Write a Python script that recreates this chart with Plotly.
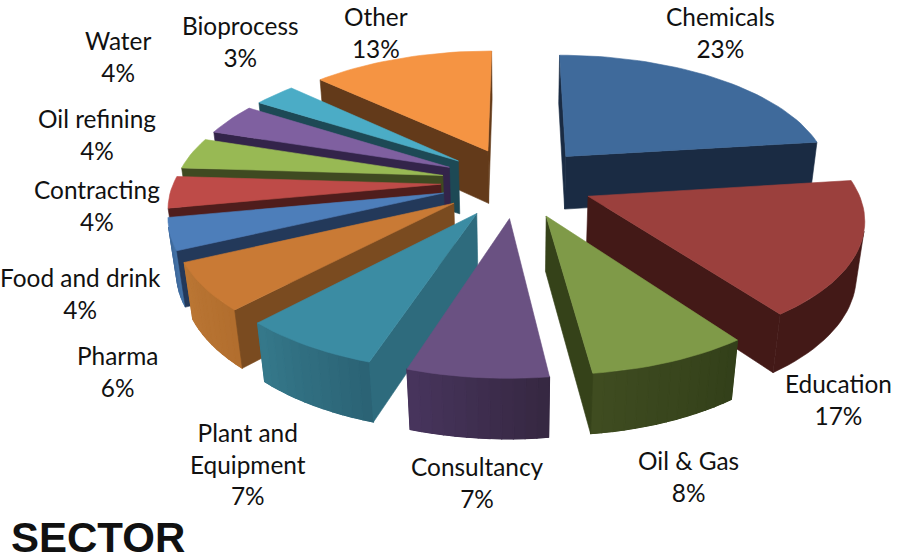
import math
import plotly.graph_objects as go

categories = ["Chemicals", "Education", "Oil & Gas", "Consultancy", "Plant and<br>Equipment", "Pharma",
              "Food and drink", "Contracting", "Oil refining", "Water", "Bioprocess", "Other"]
values = [23, 17, 8, 7, 7, 6, 4, 4, 4, 4, 3, 13]

top_colors = ["#3F6A9B", "#9B403D", "#7F9A48", "#6A5182", "#3B8CA3", "#C97A35",
              "#4D7EBA", "#BE4B48", "#98B954", "#7F60A0", "#4BACC6", "#F59443"]
edge_colors = ["#1A2B43", "#431917", "#354219", "#3C2D50", "#2E6B7D", "#7A4B20",
               "#23395A", "#4F1D1C", "#3F4A21", "#33244A", "#1D4955", "#633A1A"]
arc_from = ["#1A2B43", "#431917", "#33401A", "#362842", "#2B6375", "#B26E2E",
            "#4674A8", "#A8423F", "#86A34A", "#6E5290", "#3F97AE", "#D9823A"]
arc_to = ["#1A2B43", "#431917", "#3F4C20", "#47345C", "#35788A", "#BA7634",
          "#3F6A9C", "#A8423F", "#86A34A", "#6E5290", "#3F97AE", "#D9823A"]

label_x = [720, 838, 688, 477, 248, 117, 80, 97, 97, 118, 240, 376]
label_y = [32, 399, 476, 482, 464, 371, 293, 205, 134, 56, 41, 32]

CX, CY, RX, RY = 517, 182, 267, 123.5
PERSP, EXPLODE, DEPTH, DEPTH_W = 0.15, 0.285, 55, 0.024


def project(px, py, low=False):
    w = 1 + PERSP * py + (DEPTH_W if low else 0)
    return (CX + RX * px / w, CY - RY * py / w + (DEPTH / w if low else 0))


def mix(a, b, t):
    ca = [int(a[i:i + 2], 16) for i in (1, 3, 5)]
    cb = [int(b[i:i + 2], 16) for i in (1, 3, 5)]
    return "#%02X%02X%02X" % tuple(round(u + (v - u) * t) for u, v in zip(ca, cb))


def area(pts):
    return sum(pts[i][0] * pts[(i + 1) % len(pts)][1] - pts[(i + 1) % len(pts)][0] * pts[i][1]
               for i in range(len(pts)))


fig = go.Figure()


def poly(pts, color, width=0.6):
    xs = [p[0] for p in pts] + [pts[0][0]]
    ys = [p[1] for p in pts] + [pts[0][1]]
    fig.add_trace(go.Scatter(x=xs, y=ys, mode="lines", fill="toself", fillcolor=color,
                             line=dict(color=color, width=width), hoverinfo="skip", showlegend=False))


total = sum(values)
slices = []
acc = 0
for i, v in enumerate(values):
    a0 = acc / total * 2 * math.pi
    acc += v
    a1 = acc / total * 2 * math.pi
    slices.append((math.cos((a0 + a1) / 2), i, a0, a1))

for _, i, a0, a1 in sorted(slices, key=lambda s: -s[0]):
    mid = (a0 + a1) / 2
    ox, oy = EXPLODE * math.sin(mid), EXPLODE * math.cos(mid)
    n = max(3, int(math.degrees(a1 - a0) / 2))
    arc = [(ox + math.sin(a0 + (a1 - a0) * k / n), oy + math.cos(a0 + (a1 - a0) * k / n)) for k in range(n + 1)]
    run = []
    for k in range(n):
        p, q = arc[k], arc[k + 1]
        quad = [project(*p), project(*q), project(*q, low=True), project(*p, low=True)]
        if area(quad) < 0:
            run.append(k)
    if run:
        lo, hi = run[0], run[-1] + 1
        band_pts = arc[lo:hi + 1]
        outer = [project(*p) for p in band_pts] + [project(*p, low=True) for p in reversed(band_pts)]
        poly(outer, mix(arc_from[i], arc_to[i], 0.5))
        if arc_from[i] != arc_to[i]:
            for k in run:
                p, q = arc[k], arc[k + 1]
                quad = [project(*p), project(*q), project(*q, low=True), project(*p, low=True)]
                poly(quad, mix(arc_from[i], arc_to[i], (k - lo) / max(1, len(run) - 1)), width=1.2)
    apex = (ox, oy)
    for p, q in ((apex, arc[0]), (arc[-1], apex)):
        quad = [project(*p), project(*q), project(*q, low=True), project(*p, low=True)]
        if area(quad) < 0:
            poly(quad, edge_colors[i])
    poly([project(*apex)] + [project(*p) for p in arc], top_colors[i])

for c, v, x, y in zip(categories, values, label_x, label_y):
    fig.add_annotation(x=x, y=y, xref="x", yref="y", text=f"{c}<br>{v}%", showarrow=False,
                       font=dict(family="Lato", size=24.4, color="#111111"), align="center")

fig.add_annotation(x=9, y=537, xref="x", yref="y", text="<b>SECTOR</b>", showarrow=False, xanchor="left",
                   font=dict(family="Liberation Sans", size=42, color="#111111"))

fig.update_xaxes(range=[0, 903], visible=False, fixedrange=True)
fig.update_yaxes(range=[556, 0], visible=False, fixedrange=True)
fig.update_layout(width=903, height=556, margin=dict(l=0, r=0, t=0, b=0), autosize=False,
                  paper_bgcolor="white", plot_bgcolor="white", showlegend=False)
fig.write_html("out.html", config=dict(displayModeBar=False),
               post_script="document.body.style.margin='0';document.documentElement.style.overflow='hidden';"
                           "var s=document.createElement('style');"
                           "s.textContent='text{font-variant-ligatures:none}';document.head.appendChild(s);")
